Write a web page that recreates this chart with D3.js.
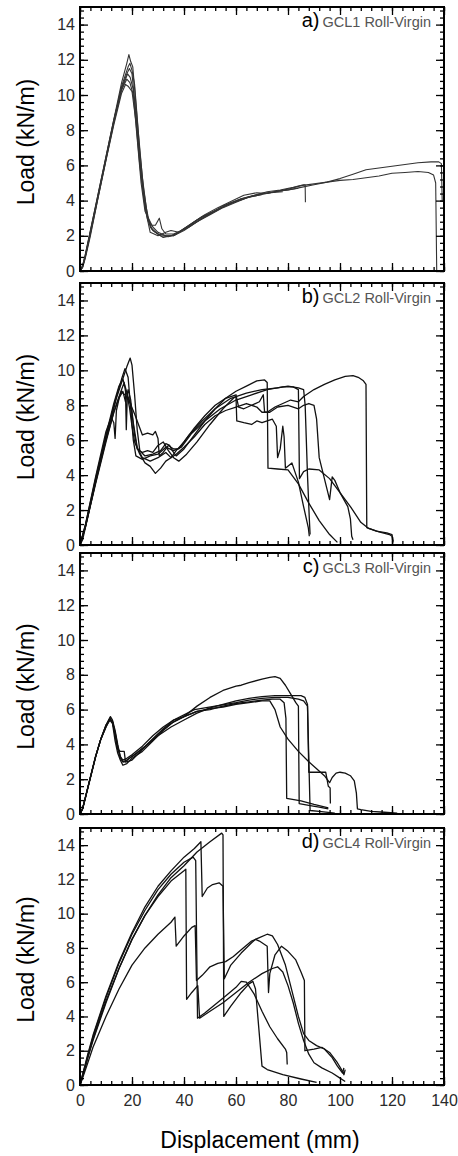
<!DOCTYPE html>
<html>
<head>
<meta charset="utf-8">
<script src="https://cdn.jsdelivr.net/npm/d3@7"></script>
<style>
  body { margin: 0; background: #fff; }
  text { font-family: "Liberation Sans", Arial, sans-serif; }
</style>
</head>
<body>
<div id="chart"></div>
<script>
// panel labels
var panelLetters = ['a)', 'b)', 'c)', 'd)'];
var panelNames = ['GCL1 Roll-Virgin', 'GCL2 Roll-Virgin', 'GCL3 Roll-Virgin', 'GCL4 Roll-Virgin'];

// axis ticks
var xTicks = [0, 20, 40, 60, 80, 100, 120, 140];
var yTicks = [0, 2, 4, 6, 8, 10, 12, 14];

// GCL1 tests: [displacement mm, load kN/m]
var gcl1Curves = [
  [[0,0],[1,0.3],[2,0.9],[4,2.3],[7,4.4],[10,6.5],[13,8.6],[16,10.7],[18,11.8],[18.8,12.3],[19.5,11.9],[20.3,11.6],[21.5,9.5],[23,6.8],[24.5,4.6],[26,3.1],[27.5,2.4],[30,2.1],[33,2.0],[36,2.0],[40,2.4],[45,2.8],[50,3.2],[55,3.6],[60,3.9],[65,4.2],[70,4.4],[75,4.5],[80,4.6],[85,4.75],[90,4.9],[95,5.05],[100,5.25],[105,5.5],[110,5.75],[115,5.85],[120,5.95],[125,6.05],[130,6.15],[135,6.2],[138,6.2],[139,6.1],[139.3,4.0]],
  [[0,0],[1,0.2],[2,0.7],[4,2.0],[7,4.2],[10,6.3],[13,8.3],[16,10.1],[17.5,10.6],[18.5,10.5],[20,10.2],[21.5,8.5],[23,6.0],[24.5,4.2],[26,2.9],[28,2.3],[31,2.0],[34,1.95],[37,2.1],[40,2.4],[45,2.9],[50,3.3],[55,3.65],[60,3.95],[65,4.2],[70,4.35],[75,4.5],[80,4.65],[85,4.85],[90,4.95],[95,5.05],[100,5.15],[105,5.2],[110,5.3],[115,5.4],[120,5.55],[125,5.6],[130,5.65],[134,5.6],[136,5.45],[136.8,5.0],[137.2,0]],
  [[0,0],[1,0.25],[2,0.8],[4,2.2],[7,4.3],[10,6.4],[13,8.5],[16,10.5],[18.5,11.6],[19.2,11.8],[20,11.4],[21,10.6],[22.5,7.8],[24,5.3],[25.5,3.6],[27,2.5],[29,2.2],[32,1.9],[35,2.0],[38,2.2],[42,2.6],[47,3.1],[52,3.4],[57,3.8],[62,4.1],[67,4.3],[72,4.5],[77,4.6],[82,4.75],[86,4.9],[86.6,4.9],[86.7,3.9]],
  [[0,0],[1,0.3],[2,0.9],[4,2.3],[7,4.4],[10,6.5],[13,8.6],[16,10.4],[18,11.2],[19,11.5],[20,11.2],[21.5,9.0],[23,6.3],[24.5,4.3],[26,3.0],[27.5,2.6],[29,2.6],[30.5,3.0],[31.5,2.4],[33,2.1],[36,2.1],[39,2.3],[43,2.7],[48,3.2],[53,3.6],[58,3.95],[63,4.3],[68,4.45],[72,4.4],[76,4.55],[80,4.6],[84,4.7]],
  [[0,0],[1,0.2],[2,0.8],[4,2.2],[7,4.3],[10,6.4],[13,8.5],[16,10.3],[18.3,11.2],[19.3,11.0],[20.5,10.3],[22,8.0],[23.5,5.5],[25,3.6],[27,2.2],[30,2.0],[33,2.2],[35,2.3],[38,2.2],[42,2.5],[48,3.1],[55,3.7],[62,4.1],[70,4.4],[78,4.5]],
  [[0,0],[1,0.25],[2,0.8],[4,2.1],[7,4.2],[10,6.3],[13,8.4],[16,10.3],[18,10.9],[19.2,10.7],[20.5,10.0],[22,7.5],[23.5,5.0],[25,3.4],[28,2.5],[30,2.2],[33,2.0],[36,2.0],[40,2.3],[46,2.9],[52,3.4],[58,3.85],[64,4.15],[70,4.35]]
];

// GCL2 tests
var gcl2Curves = [
  [[0,0],[1,0.3],[3,1.6],[6,3.6],[10,6.1],[14,8.4],[16,9.3],[18,10.2],[19.3,10.7],[20,10.3],[21,8.6],[22,6.6],[23,5.4],[25,5.1],[28,5.2],[31,5.4],[33,5.8],[34.5,5.7],[35.5,5.4],[37,5.1],[40,5.5],[44,6.3],[48,7.1],[52,7.8],[56,8.4],[60,8.8],[64,9.1],[68,9.4],[71,9.45],[72,9.3],[72.3,4.4],[76,4.35],[80,4.3],[84,3.5],[88,2.4],[92,1.4],[96,0.6],[99,0.15]],
  [[0,0],[2,1.0],[6,3.7],[10,6.2],[14,8.5],[16,9.5],[17.3,10.1],[18.5,9.6],[19.5,7.8],[20.5,6.0],[21.5,5.1],[24,4.9],[27,5.1],[30,5.2],[33,5.6],[36,5.4],[39,5.6],[43,6.4],[48,7.1],[54,7.8],[60,8.3],[66,8.6],[72,8.9],[78,9.05],[82,9.05],[84,8.9],[84.4,3.8],[86,4.2],[88,4.35],[92,4.3],[96,3.8],[100,3.0],[104,2.2],[108,1.3],[111,0.95],[115,0.75],[119,0.6],[120,0.5],[120.3,0.1]],
  [[0,0],[2,1.1],[6,3.8],[10,6.3],[13,8.1],[15,9.1],[16.5,9.5],[17.5,9.0],[19,8.2],[21,7.5],[23,6.7],[24,6.3],[26,6.4],[28,6.3],[29,6.5],[30,6.1],[30.5,5.1],[32,5.3],[34,5.7],[36,5.5],[38,5.5],[42,6.3],[47,7.1],[52,7.8],[58,8.4],[64,8.7],[70,8.9],[76,9.0],[80,9.1],[84,9.0],[86,8.9],[86.6,8.0],[87.5,4.0],[88.2,1.5],[88.5,0.6]],
  [[0,0],[2,1.0],[6,3.5],[10,5.9],[13,7.6],[15,8.5],[16,8.8],[17,8.6],[18,8.7],[19,7.9],[20,6.8],[21,5.9],[23,5.2],[25,4.7],[27,4.5],[29,4.1],[31,4.4],[33,4.8],[35,5.0],[37,5.2],[40,5.6],[44,6.2],[48,6.9],[52,7.4],[56,7.7],[60,7.9],[64,8.1],[68,7.9],[70,7.6],[72,7.6],[75,7.9],[78,8.1],[81,8.3],[84,8.2],[86,8.5],[90,8.9],[94,9.2],[98,9.45],[102,9.65],[105,9.7],[107,9.6],[109,9.4],[110,9.2],[110.3,1.0],[114,0.8],[118,0.7],[120,0.6],[120.5,0.2]],
  [[0,0],[2,1.1],[6,3.9],[10,6.5],[12,7.3],[13,7.0],[13.5,6.1],[14,7.7],[15.5,8.7],[17,9.3],[17.5,8.8],[17.8,6.6],[18.2,8.5],[19.5,8.1],[21,6.3],[22,5.5],[24,5.3],[26,5.4],[28,5.3],[30,5.7],[32,5.9],[34,5.4],[36,5.0],[38,4.8],[41,5.2],[45,5.9],[50,6.9],[55,7.8],[59,8.4],[60,8.5],[60.3,7.1],[63,7.0],[66,6.9],[68,7.1],[70,7.0],[72,7.1],[74,7.2],[75.5,6.8],[76,5.0],[77,5.5],[78,6.8],[78.5,6.2],[79,4.4],[81.5,4.7],[84,3.6],[86,2.2],[87.8,1.0],[88.2,0.5]],
  [[0,0],[2,1.0],[6,3.6],[10,6.0],[13,7.6],[15,8.4],[16.5,8.8],[17.5,8.2],[18.5,8.9],[19.5,8.3],[20.5,7.0],[22,5.6],[24,5.0],[27,4.8],[30,5.0],[33,5.3],[35,5.0],[37,5.4],[40,5.9],[44,6.7],[48,7.4],[52,8.0],[56,8.4],[60,8.6],[61,7.9],[63,7.8],[66,8.0],[69,8.2],[70.5,8.6],[71,7.6],[73,7.6],[76,7.9],[80,8.0],[84,7.8],[86,8.0],[88,8.1],[90,8.0],[91,7.2],[92,5.0],[93,4.4],[95,3.2],[96,2.6],[97,3.9],[98,3.7],[100,3.0],[103,2.2],[104,1.5],[104.5,0.5],[105,0.3]]
];

// GCL3 tests
var gcl3Curves = [
  [[0,0],[1,0.3],[2,0.9],[4,2.1],[6,3.3],[8,4.3],[10,5.1],[11,5.4],[11.7,5.6],[12.5,5.4],[13.5,4.8],[14.5,4.0],[15.5,3.3],[16.5,3.0],[18,3.1],[20,3.3],[25,3.9],[30,4.6],[35,5.2],[40,5.6],[45,6.2],[50,6.7],[55,7.1],[60,7.35],[62,7.4],[65,7.55],[70,7.75],[73,7.85],[75,7.9],[77,7.8],[79,7.4],[81,6.9],[83,6.4],[84,6.2],[84.3,0.6],[88,0.5],[92,0.4],[95.5,0.3]],
  [[0,0],[1,0.3],[2,0.9],[4,2.1],[6,3.3],[8,4.3],[10,5.0],[11.5,5.5],[12.5,5.3],[13.5,4.5],[14.5,3.7],[15.5,3.6],[17,3.6],[17.5,3.0],[19,3.2],[22,3.5],[26,4.0],[30,4.5],[35,5.0],[40,5.4],[45,5.8],[50,6.1],[55,6.3],[60,6.5],[65,6.65],[70,6.75],[75,6.8],[80,6.8],[85,6.8],[86.5,6.7],[87.5,6.3],[88,2.4],[91,2.4],[94.5,2.4],[95.5,1.6],[96.2,1.5],[96.3,0.6]],
  [[0,0],[1,0.3],[2,0.9],[4,2.1],[6,3.3],[8,4.3],[10,5.1],[11.5,5.4],[12.5,5.2],[13.5,4.2],[14.5,3.5],[15.5,3.1],[16.5,2.8],[18,2.9],[20,3.2],[24,3.6],[28,4.2],[32,4.8],[36,5.3],[40,5.6],[45,5.9],[50,6.0],[55,6.2],[60,6.35],[65,6.45],[70,6.55],[74,6.6],[77,6.6],[78.5,6.4],[79.2,5.5],[79.5,0.9],[85,0.75],[90,0.55],[95.5,0.35]],
  [[0,0],[1,0.3],[2,0.9],[4,2.1],[6,3.3],[8,4.3],[10,5.1],[11.5,5.5],[12.5,5.3],[13.5,4.6],[14.5,3.8],[15.5,3.2],[16.5,3.0],[18,3.0],[20,3.1],[24,3.7],[28,4.3],[32,4.9],[36,5.4],[40,5.7],[44,6.0],[48,6.1],[52,6.2],[56,6.3],[60,6.4],[65,6.55],[70,6.65],[75,6.7],[80,6.7],[84,6.6],[86,6.5],[87.5,6.2],[88.5,0.2],[92,0.15],[98,0.05]],
  [[0,0],[1,0.3],[2,0.9],[4,2.1],[6,3.3],[8,4.3],[10,5.0],[11.5,5.4],[12.5,5.3],[13.5,4.7],[14.5,3.9],[15.5,3.3],[16.5,3.1],[18,3.2],[20,3.4],[24,3.9],[28,4.5],[32,5.0],[36,5.4],[40,5.6],[45,5.9],[50,6.05],[55,6.15],[60,6.3],[65,6.4],[70,6.5],[73,6.5],[75,6.0],[77,5.0],[80,4.3],[84,3.6],[88,3.0],[91,2.6],[94,2.2],[95.5,1.9],[96,1.8],[97,2.1],[98.5,2.35],[100,2.4],[102,2.35],[104,2.2],[105.5,1.9],[106.3,1.2],[106.7,0.3],[108,0.25],[112,0.15],[117,0.1],[122,0.05]]
];

// GCL4 tests
var gcl4Curves = [
  [[0,0],[1,0.5],[3,1.6],[5,2.7],[10,4.9],[15,6.8],[20,8.5],[25,9.9],[30,11.1],[35,12.1],[40,12.8],[45,13.6],[50,14.2],[54.5,14.7],[55,14.6],[55.3,4.0],[58,4.6],[62,5.4],[65,5.9],[66.5,6.05],[67.5,5.6],[68.5,3.8],[70,1.1],[72,0.9],[78,0.6],[85,0.35],[91,0.15]],
  [[0,0],[1,0.6],[3,1.8],[5,2.9],[10,5.2],[15,7.2],[20,8.9],[25,10.4],[30,11.6],[35,12.5],[40,13.3],[44,13.8],[46.5,14.2],[47,11.0],[49,11.5],[51,11.7],[53.5,11.8],[55,11.6],[55.5,6.2],[58,7.0],[62,7.7],[66,8.3],[67.5,8.5],[69,8.4],[72,8.1],[72.5,5.4],[73,6.5],[75,7.6],[77.5,8.1],[80,7.8],[83,7.3],[85,6.6],[86.3,6.1],[86.5,2.0],[90,2.1],[93,2.2],[96,1.9],[99,1.3],[101,0.8],[101.5,0.6],[102,0.9]],
  [[0,0],[1,0.6],[3,1.7],[5,2.8],[10,5.1],[15,7.1],[20,8.8],[25,10.2],[30,11.4],[35,12.3],[40,13.0],[43.5,13.3],[44.5,13.1],[45.2,3.9],[48,4.2],[52,4.7],[56,5.2],[60,5.7],[62,6.05],[64,6.0],[67,5.3],[70,4.3],[73,3.4],[76,2.7],[79,2.1],[79.5,1.9],[79.7,1.2]],
  [[0,0],[1,0.5],[3,1.6],[5,2.6],[10,4.8],[15,6.8],[20,8.5],[25,9.9],[30,11.0],[35,11.9],[40,12.5],[40.7,12.6],[41,5.0],[43,5.4],[45.3,5.8],[46,3.9],[50,4.3],[55,4.8],[60,5.4],[65,6.0],[70,6.5],[74,6.8],[76,6.9],[78,6.6],[80,5.8],[82,4.8],[84,3.6],[86,2.6],[88,1.8],[90,1.3],[93,1.0],[97,0.7],[100,0.4],[102,0.2]],
  [[0,0],[1,0.4],[3,1.3],[5,2.2],[10,4.0],[15,5.6],[20,7.0],[25,8.0],[30,8.8],[35,9.5],[36.5,9.8],[37,8.1],[40,8.7],[43,9.2],[44.3,9.3],[44.8,6.1],[47,6.4],[50,6.9],[53,7.1],[56,7.2],[59,7.5],[62,7.9],[66,8.4],[69,8.6],[72,8.8],[74,8.7],[76,8.2],[79,7.0],[82,5.2],[84,4.0],[86,3.0],[88,2.6],[91,2.3],[94,2.1],[97,1.6],[99,1.1],[101,0.7],[101.5,1.0]]
];

var panelCurves = [gcl1Curves, gcl2Curves, gcl3Curves, gcl4Curves];

// layout
var width = 458, height = 1156;
var left = 80, right = 444;
var panelTop = [7, 283, 553, 828];
var panelBottom = [271, 545, 814, 1085];

var svg = d3.select('#chart')
  .append('svg')
  .attr('width', width)
  .attr('height', height);

var xScale = d3.scaleLinear().domain([0, 140]).range([left, right]);
var xMinor = d3.range(0, 141, 4);
var yMinor = d3.range(0, 15, 0.4);

panelCurves.forEach(function(curves, i) {
  var top = panelTop[i], bottom = panelBottom[i];
  var yScale = d3.scaleLinear().domain([0, 15]).range([bottom, top]);
  var last = i === panelCurves.length - 1;
  var g = svg.append('g').attr('class', 'panel');

  // curves
  var line = d3.line()
    .x(function(d) { return xScale(d[0]); })
    .y(function(d) { return yScale(d[1]); });
  g.selectAll('path.curve').data(curves).enter()
    .append('path')
    .attr('class', 'curve')
    .attr('d', line)
    .attr('fill', 'none')
    .attr('stroke', i === 0 ? '#333' : '#111')
    .attr('stroke-width', i === 0 ? 1.1 : 1.3)
    .attr('stroke-linejoin', 'round');

  // inward ticks on all four sides
  function tickAxis(axis, tx, ty, values, size, fmt, pad) {
    var a = axis.tickValues(values).tickSize(-size).tickPadding(pad || 0);
    a.tickFormat(fmt || function() { return ''; });
    var ag = g.append('g')
      .attr('transform', 'translate(' + tx + ',' + ty + ')')
      .call(a);
    ag.select('.domain').remove();
    ag.selectAll('line').attr('stroke', '#000').attr('stroke-width', 1.3);
    return ag;
  }
  var yl = tickAxis(d3.axisLeft(yScale), left, 0, yTicks, 8, d3.format('d'), 5);
  yl.selectAll('text').attr('font-size', 16).attr('fill', '#2a2a2a')
    .style('font-family', '"Liberation Sans", Arial, sans-serif');
  tickAxis(d3.axisLeft(yScale), left, 0, yMinor, 4);
  tickAxis(d3.axisRight(yScale), right, 0, yTicks, 8);
  tickAxis(d3.axisRight(yScale), right, 0, yMinor, 4);
  tickAxis(d3.axisTop(xScale), 0, top, xTicks, 8);
  tickAxis(d3.axisTop(xScale), 0, top, xMinor, 4);
  var xb = tickAxis(d3.axisBottom(xScale), 0, bottom, xTicks, 8, last ? d3.format('d') : null, 10);
  xb.selectAll('text').attr('font-size', 16).attr('fill', '#2a2a2a')
    .style('font-family', '"Liberation Sans", Arial, sans-serif');
  tickAxis(d3.axisBottom(xScale), 0, bottom, xMinor, 4);

  // frame
  g.append('rect')
    .attr('x', left).attr('y', top)
    .attr('width', right - left).attr('height', bottom - top)
    .attr('fill', 'none').attr('stroke', '#000').attr('stroke-width', 2);

  // y label
  var cy = (top + bottom) / 2 + 3;
  g.append('text')
    .attr('transform', 'translate(34,' + cy + ') rotate(-90)')
    .attr('text-anchor', 'middle')
    .attr('font-size', 23)
    .attr('fill', '#000')
    .text('Load (kN/m)');

  // panel title
  var t = g.append('text')
    .attr('x', 431).attr('y', top + 20)
    .attr('text-anchor', 'end');
  t.append('tspan').attr('font-size', 20).attr('fill', '#000').text(panelLetters[i]);
  t.append('tspan').attr('dx', 3).attr('font-size', 14.5).attr('fill', '#555').text(panelNames[i]);
});

// x label
svg.append('text')
  .attr('x', 260).attr('y', 1148)
  .attr('text-anchor', 'middle')
  .attr('font-size', 23)
  .attr('fill', '#000')
  .text('Displacement (mm)');
</script>
</body>
</html>
